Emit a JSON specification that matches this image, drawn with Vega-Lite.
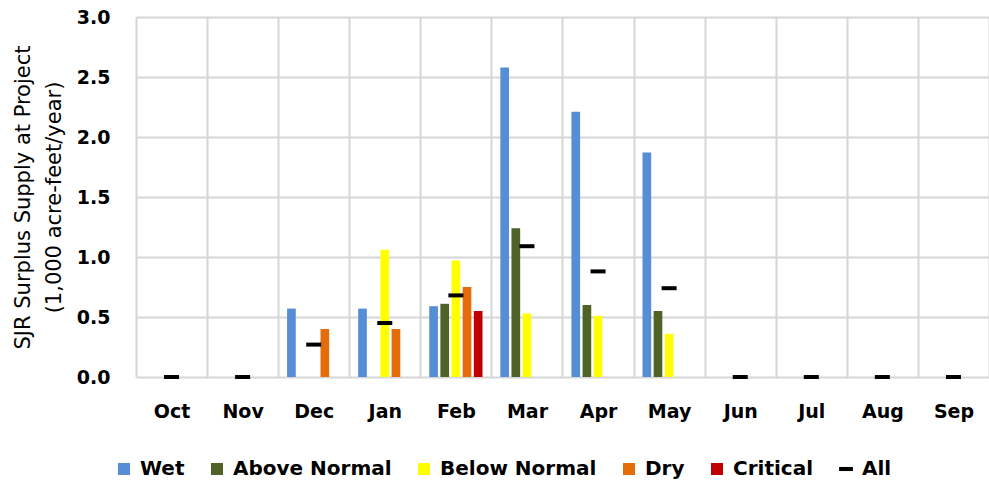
{
  "$schema": "https://vega.github.io/schema/vega-lite/v6.json",
  "autosize": {"type": "none"},
  "width": 853,
  "height": 360,
  "padding": {"left": 136, "top": 17, "right": 0, "bottom": 105},
  "background": "white",
  "config": {
    "view": {"stroke": null},
    "axis": {
      "labelFont": "DejaVu Sans",
      "labelFontWeight": "bold",
      "labelFontSize": 19,
      "labelColor": "#000000",
      "titleFont": "DejaVu Sans",
      "titleFontWeight": "normal",
      "titleFontSize": 21,
      "titleColor": "#000000",
      "gridColor": "#d6d6d6",
      "gridWidth": 2,
      "domain": false,
      "ticks": false
    }
  },
  "data": {
    "values": [
      {"month": "Oct", "type": "All", "value": 0},
      {"month": "Nov", "type": "All", "value": 0},
      {"month": "Dec", "type": "Wet", "value": 0.57},
      {"month": "Dec", "type": "Dry", "value": 0.40},
      {"month": "Dec", "type": "All", "value": 0.27},
      {"month": "Jan", "type": "Wet", "value": 0.57},
      {"month": "Jan", "type": "Below Normal", "value": 1.06},
      {"month": "Jan", "type": "Dry", "value": 0.40},
      {"month": "Jan", "type": "All", "value": 0.45},
      {"month": "Feb", "type": "Wet", "value": 0.59},
      {"month": "Feb", "type": "Above Normal", "value": 0.61},
      {"month": "Feb", "type": "Below Normal", "value": 0.97},
      {"month": "Feb", "type": "Dry", "value": 0.75},
      {"month": "Feb", "type": "Critical", "value": 0.55},
      {"month": "Feb", "type": "All", "value": 0.68},
      {"month": "Mar", "type": "Wet", "value": 2.58},
      {"month": "Mar", "type": "Above Normal", "value": 1.24},
      {"month": "Mar", "type": "Below Normal", "value": 0.53},
      {"month": "Mar", "type": "All", "value": 1.09},
      {"month": "Apr", "type": "Wet", "value": 2.21},
      {"month": "Apr", "type": "Above Normal", "value": 0.60},
      {"month": "Apr", "type": "Below Normal", "value": 0.51},
      {"month": "Apr", "type": "All", "value": 0.88},
      {"month": "May", "type": "Wet", "value": 1.87},
      {"month": "May", "type": "Above Normal", "value": 0.55},
      {"month": "May", "type": "Below Normal", "value": 0.36},
      {"month": "May", "type": "All", "value": 0.74},
      {"month": "Jun", "type": "All", "value": 0},
      {"month": "Jul", "type": "All", "value": 0},
      {"month": "Aug", "type": "All", "value": 0},
      {"month": "Sep", "type": "All", "value": 0}
    ]
  },
  "encoding": {
    "x": {
      "field": "month",
      "type": "nominal",
      "scale": {
        "domain": ["Oct", "Nov", "Dec", "Jan", "Feb", "Mar", "Apr", "May", "Jun", "Jul", "Aug", "Sep"],
        "paddingInner": 0,
        "paddingOuter": 0
      },
      "axis": {
        "title": null,
        "labelAngle": 0,
        "labelPadding": 25,
        "grid": true,
        "tickBand": "extent"
      }
    },
    "y": {
      "field": "value",
      "type": "quantitative",
      "scale": {"domain": [0, 3], "nice": false},
      "axis": {
        "values": [0, 0.5, 1, 1.5, 2, 2.5, 3],
        "format": ".1f",
        "labelPadding": 26,
        "title": ["SJR Surplus Supply at Project", "(1,000 acre-feet/year)"],
        "titleLineHeight": 31,
        "titlePadding": 12
      }
    },
    "color": {
      "field": "type",
      "type": "nominal",
      "scale": {
        "domain": ["Wet", "Above Normal", "Below Normal", "Dry", "Critical", "All"],
        "range": ["#558ed5", "#4f6228", "#ffff00", "#e46c0a", "#c00000", "#000000"]
      },
      "legend": {
        "title": null,
        "orient": "none",
        "direction": "horizontal",
        "legendX": -22,
        "legendY": 442,
        "labelFont": "DejaVu Sans",
        "labelFontWeight": "bold",
        "labelFontSize": 20,
        "labelColor": "#000000",
        "symbolSize": 144,
        "symbolStrokeWidth": 0,
        "labelOffset": 6,
        "columnPadding": 22,
        "encode": {
          "symbols": {
            "update": {
              "shape": {"signal": "datum.value === 'All' ? 'M-1.15,-0.34H1.15V0.34H-1.15Z' : 'square'"}
            }
          }
        }
      }
    }
  },
  "layer": [
    {
      "transform": [{"filter": "datum.type !== 'All'"}],
      "mark": {"type": "bar"},
      "encoding": {
        "xOffset": {
          "field": "type",
          "type": "nominal",
          "scale": {
            "domain": ["Wet", "Above Normal", "Below Normal", "Dry", "Critical"],
            "paddingInner": 0.22,
            "paddingOuter": 0.8
          }
        }
      }
    },
    {
      "transform": [{"filter": "datum.type === 'All'"}],
      "mark": {"type": "tick", "size": 15, "thickness": 4, "opacity": 1},
      "encoding": {}
    }
  ]
}
